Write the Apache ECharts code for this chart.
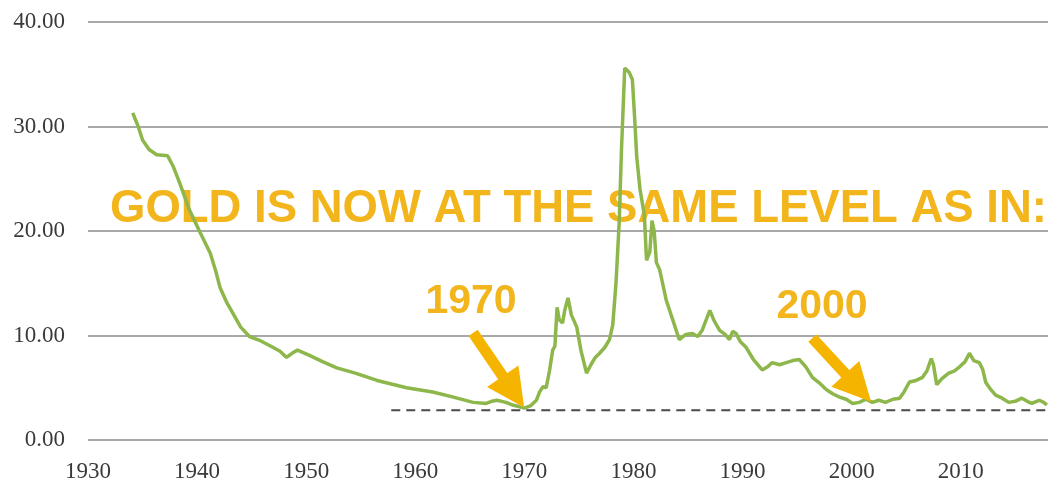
<!DOCTYPE html>
<html>
<head>
    <meta charset="utf-8">
    <title>Gold ratio</title>
    <script src="https://cdn.jsdelivr.net/npm/echarts@6/dist/echarts.min.js"></script>
    <style>
        html, body { margin: 0; padding: 0; background: #fff; }
        #main { width: 1064px; height: 486px; }
    </style>
</head>
<body>
    <div id="main"></div>
    <script type="text/javascript">
        // values, [year, ratio]
        var ratio = [
            [1934.1, 31.3], [1934.6, 30.0], [1935.0, 28.7], [1935.6, 27.8], [1936.3, 27.3],
            [1937.3, 27.2], [1937.8, 26.2], [1938.4, 24.6], [1939.3, 22.0], [1940.3, 19.8],
            [1941.2, 17.9], [1941.7, 16.2], [1942.1, 14.6], [1942.7, 13.2], [1943.3, 12.1],
            [1944.0, 10.8], [1944.8, 9.9], [1945.8, 9.5], [1946.9, 8.9], [1947.6, 8.5],
            [1948.2, 7.9], [1948.7, 8.3], [1949.2, 8.6], [1950.3, 8.1], [1951.5, 7.5],
            [1952.8, 6.9], [1954.5, 6.4], [1956.5, 5.7], [1959.2, 5.0], [1961.6, 4.6],
            [1963.5, 4.1], [1965.3, 3.6], [1966.5, 3.5], [1967.0, 3.7], [1967.5, 3.8],
            [1968.3, 3.6], [1968.9, 3.35], [1969.5, 3.2], [1970.0, 3.05], [1970.6, 3.3],
            [1971.1, 3.8], [1971.4, 4.6], [1971.7, 5.1], [1972.0, 5.0], [1972.3, 6.6],
            [1972.6, 8.6], [1972.8, 9.0], [1973.0, 12.7], [1973.2, 11.5], [1973.5, 11.2],
            [1973.7, 12.4], [1974.0, 13.6], [1974.3, 12.0], [1974.8, 10.8], [1975.2, 8.5],
            [1975.7, 6.4], [1976.1, 7.2], [1976.5, 7.9], [1976.9, 8.3], [1977.4, 8.9],
            [1977.8, 9.6], [1978.1, 11.0], [1978.4, 15.0], [1978.7, 21.0], [1978.9, 27.7],
            [1979.1, 33.0], [1979.2, 35.6], [1979.6, 35.2], [1979.9, 34.5], [1980.1, 31.0],
            [1980.3, 27.1], [1980.6, 24.0], [1981.0, 21.5], [1981.2, 17.2], [1981.5, 18.0],
            [1981.7, 21.0], [1981.9, 20.0], [1982.1, 17.0], [1982.4, 16.3], [1983.0, 13.4],
            [1983.6, 11.5], [1984.2, 9.6], [1984.8, 10.1], [1985.4, 10.2], [1985.9, 9.9],
            [1986.3, 10.5], [1986.7, 11.6], [1987.0, 12.4], [1987.4, 11.4], [1987.9, 10.5],
            [1988.4, 10.1], [1988.8, 9.6], [1989.1, 10.4], [1989.4, 10.2], [1989.8, 9.4],
            [1990.3, 8.9], [1991.0, 7.7], [1991.8, 6.7], [1992.3, 7.0], [1992.7, 7.4],
            [1993.4, 7.2], [1994.0, 7.4], [1994.6, 7.6], [1995.2, 7.7], [1995.8, 7.0],
            [1996.4, 6.0], [1997.0, 5.5], [1997.7, 4.8], [1998.3, 4.4], [1998.9, 4.1],
            [1999.5, 3.9], [2000.1, 3.5], [2000.7, 3.6], [2001.3, 3.9], [2001.9, 3.6],
            [2002.5, 3.8], [2003.1, 3.6], [2003.8, 3.9], [2004.4, 4.0], [2004.8, 4.6],
            [2005.3, 5.55], [2005.9, 5.7], [2006.5, 6.0], [2006.9, 6.6], [2007.3, 7.8],
            [2007.5, 7.2], [2007.8, 5.3], [2008.3, 5.9], [2008.9, 6.4], [2009.4, 6.6],
            [2009.9, 7.0], [2010.4, 7.5], [2010.8, 8.3], [2011.2, 7.6], [2011.7, 7.4],
            [2012.0, 6.8], [2012.3, 5.5], [2012.7, 4.9], [2013.2, 4.3], [2013.8, 4.0],
            [2014.4, 3.6], [2015.0, 3.7], [2015.6, 4.0], [2016.1, 3.7], [2016.5, 3.5],
            [2017.2, 3.8], [2017.6, 3.6], [2017.9, 3.35]
        ];
        // dashed "same level" line
        var levelLine = [[1957.8, 2.85], [2019.4, 2.85]];
        // arrows: [tail, head]
        var arrow1970 = [[1965.3, 10.25], [1969.0, 4.6]];
        var arrow2000 = [[1996.4, 9.75], [2000.6, 5.0]];

        var headline = 'GOLD IS NOW AT THE SAME LEVEL AS IN:';
        var gold = '#f2b51c';

        var myChart = echarts.init(document.getElementById('main'));

        var option = {
            animation: false,
            grid: { left: 88, right: 16, top: 22, bottom: 46, outerBoundsMode: 'none' },
            xAxis: {
                type: 'value',
                min: 1930,
                max: 2018,
                interval: 10,
                axisLine: { show: false },
                axisTick: { show: false },
                splitLine: { show: false },
                axisLabel: {
                    margin: 20,
                    color: '#3a3a3a',
                    fontFamily: 'Liberation Serif',
                    fontSize: 23,
                    formatter: function (v) { return v % 10 === 0 ? String(v) : ''; }
                }
            },
            yAxis: {
                type: 'value',
                min: 0,
                max: 40,
                interval: 10,
                axisLine: { show: false },
                axisTick: { show: false },
                splitLine: { lineStyle: { color: '#a8a8a8', width: 2 } },
                axisLabel: {
                    margin: 23,
                    color: '#3a3a3a',
                    fontFamily: 'Liberation Serif',
                    fontSize: 23,
                    formatter: function (v) { return v.toFixed(2); }
                }
            },
            series: [
                {
                    type: 'line',
                    data: ratio,
                    symbol: 'none',
                    lineStyle: { color: '#8db64b', width: 3.5 },
                    silent: true
                },
                {
                    type: 'line',
                    data: levelLine,
                    symbol: 'none',
                    clip: false,
                    silent: true,
                    lineStyle: { color: '#4a4a4a', width: 2, type: [9, 6] },
                    markLine: {
                        silent: true,
                        symbol: ['none', 'triangle'],
                        symbolSize: [38, 38],
                        label: { show: false },
                        lineStyle: { color: '#f5b400', width: 11, type: 'solid' },
                        data: [
                            [{ coord: arrow1970[0] }, { coord: arrow1970[1] }],
                            [{ coord: arrow2000[0] }, { coord: arrow2000[1] }]
                        ]
                    }
                }
            ],
            graphic: [
                {
                    type: 'text', x: 110, y: 209,
                    style: {
                        text: headline, fill: gold, align: 'left', verticalAlign: 'middle',
                        font: 'bold 45.5px "Liberation Sans", Arial, sans-serif'
                    }
                },
                {
                    type: 'text', x: 471, y: 302,
                    style: {
                        text: '1970', fill: gold, align: 'center', verticalAlign: 'middle',
                        font: 'bold 41px "Liberation Sans", Arial, sans-serif'
                    }
                },
                {
                    type: 'text', x: 822, y: 307,
                    style: {
                        text: '2000', fill: gold, align: 'center', verticalAlign: 'middle',
                        font: 'bold 41px "Liberation Sans", Arial, sans-serif'
                    }
                }
            ]
        };

        myChart.setOption(option);
    </script>
</body>
</html>
